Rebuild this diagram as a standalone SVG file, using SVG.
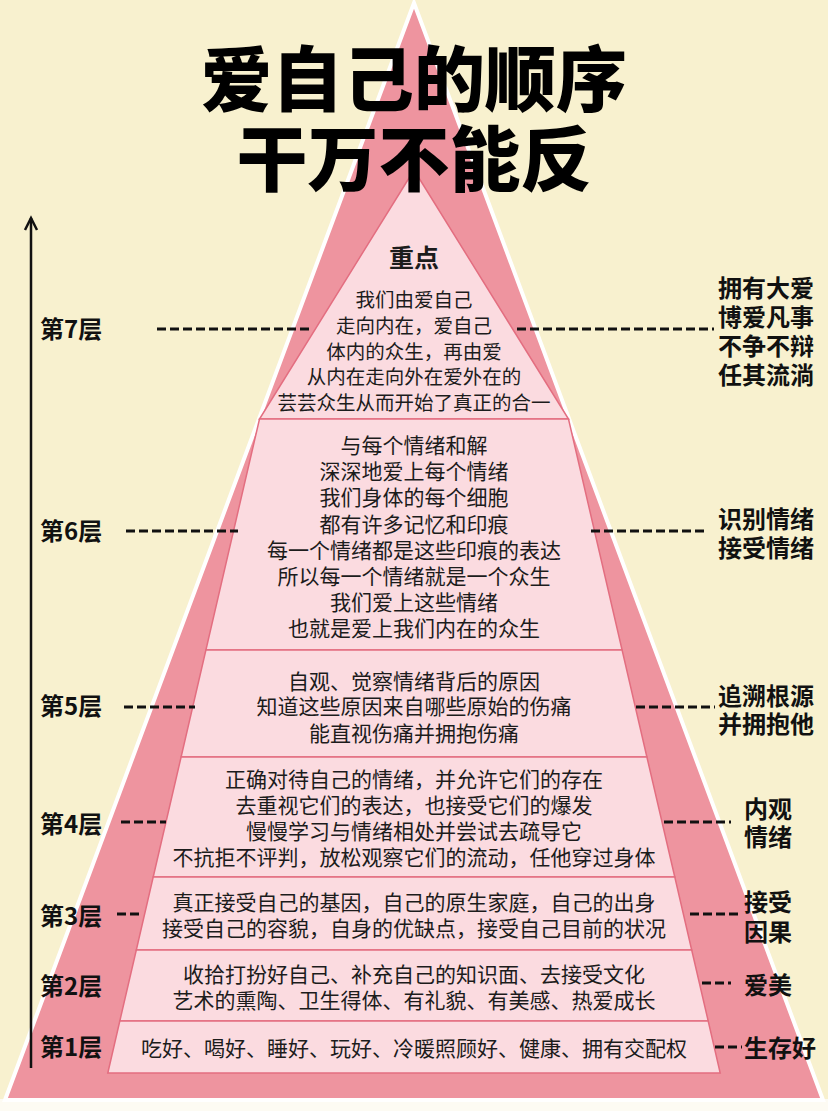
<svg xmlns="http://www.w3.org/2000/svg" width="828" height="1111" viewBox="0 0 828 1111">
<style>
.t{font-family:"Noto Sans CJK SC","Noto Sans",sans-serif;fill:#1c1c1c;text-anchor:middle}
.b{font-weight:700}
.l{font-family:"Noto Sans CJK SC","Noto Sans",sans-serif;fill:#111;font-weight:700;font-size:24px}
.ttl{font-family:"Noto Sans CJK SC","Noto Sans",sans-serif;fill:#000;font-weight:900;font-size:71px;text-anchor:middle}
.lay{fill:#fbdbe0;stroke:#e36e80;stroke-width:1.5}
.d{stroke:#111;stroke-width:3;stroke-dasharray:9 4;fill:none}
.s{font-size:21px}
.s7{font-size:19.5px}
</style>
<rect x="0" y="0" width="828" height="1111" fill="#f8f1cf"/>
<rect x="0" y="1099" width="828" height="12" fill="#fdfbf3"/>
<polygon points="414,3 5,1100 823,1100" fill="#ee949f" stroke="#ffffff" stroke-width="4" stroke-linejoin="miter"/>

<g id="layer7">
<polygon class="lay" points="414,170 259.5,419 568.5,419"/>
<text class="t b" x="414" y="267" font-size="25">重点</text>
<text class="t s7" x="414" y="307">我们由爱自己</text>
<text class="t s7" x="414" y="333">走向内在，爱自己</text>
<text class="t s7" x="414" y="359">体内的众生，再由爱</text>
<text class="t s7" x="414" y="384">从内在走向外在爱外在的</text>
<text class="t s7" x="414" y="410">芸芸众生从而开始了真正的合一</text>
</g>

<g id="layer6">
<polygon class="lay" points="259.5,419 568.5,419 622.1,650 205.9,650"/>
<text class="t s" x="414" y="453">与每个情绪和解</text>
<text class="t s" x="414" y="479">深深地爱上每个情绪</text>
<text class="t s" x="414" y="505">我们身体的每个细胞</text>
<text class="t s" x="414" y="532">都有许多记忆和印痕</text>
<text class="t s" x="414" y="558">每一个情绪都是这些印痕的表达</text>
<text class="t s" x="414" y="584">所以每一个情绪就是一个众生</text>
<text class="t s" x="414" y="610">我们爱上这些情绪</text>
<text class="t s" x="414" y="636">也就是爱上我们内在的众生</text>
</g>

<g id="layer5">
<polygon class="lay" points="205.9,650 622.1,650 646.9,757 181.1,757"/>
<text class="t s" x="414" y="689">自观、觉察情绪背后的原因</text>
<text class="t s" x="414" y="714">知道这些原因来自哪些原始的伤痛</text>
<text class="t s" x="414" y="741">能直视伤痛并拥抱伤痛</text>
</g>

<g id="layer4">
<polygon class="lay" points="181.1,757 646.9,757 674.8,877 153.2,877"/>
<text class="t s" x="414" y="787">正确对待自己的情绪，并允许它们的存在</text>
<text class="t s" x="414" y="813">去重视它们的表达，也接受它们的爆发</text>
<text class="t s" x="414" y="839">慢慢学习与情绪相处并尝试去疏导它</text>
<text class="t s" x="414" y="865">不抗拒不评判，放松观察它们的流动，任他穿过身体</text>
</g>

<g id="layer3">
<polygon class="lay" points="153.2,877 674.8,877 691.7,950 136.3,950"/>
<text class="t s" x="414" y="910">真正接受自己的基因，自己的原生家庭，自己的出身</text>
<text class="t s" x="414" y="936">接受自己的容貌，自身的优缺点，接受自己目前的状况</text>
</g>

<g id="layer2">
<polygon class="lay" points="136.3,950 691.7,950 708.2,1021 119.8,1021"/>
<text class="t s" x="414" y="982">收拾打扮好自己、补充自己的知识面、去接受文化</text>
<text class="t s" x="414" y="1008">艺术的熏陶、卫生得体、有礼貌、有美感、热爱成长</text>
</g>

<g id="layer1">
<polygon class="lay" points="119.8,1021 708.2,1021 720.2,1073 107.8,1073"/>
<text class="t s" x="414" y="1056">吃好、喝好、睡好、玩好、冷暖照顾好、健康、拥有交配权</text>
</g>

<g id="title">
<text class="ttl" x="414" y="105">爱自己的顺序</text>
<text class="ttl" x="414" y="185">干万不能反</text>
</g>

<g id="left-labels">
<text class="l" x="40" y="338">第7层</text>
<text class="l" x="40" y="540">第6层</text>
<text class="l" x="40" y="715">第5层</text>
<text class="l" x="40" y="833">第4层</text>
<text class="l" x="40" y="925">第3层</text>
<text class="l" x="40" y="995">第2层</text>
<text class="l" x="40" y="1056">第1层</text>
</g>

<g id="right-labels">
<text class="l" x="718" y="297">拥有大爱</text>
<text class="l" x="718" y="326">博爱凡事</text>
<text class="l" x="718" y="355">不争不辩</text>
<text class="l" x="718" y="384">任其流淌</text>
<text class="l" x="718" y="528">识别情绪</text>
<text class="l" x="718" y="557">接受情绪</text>
<text class="l" x="718" y="705">追溯根源</text>
<text class="l" x="718" y="733">并拥抱他</text>
<text class="l" x="744" y="818">内观</text>
<text class="l" x="744" y="846">情绪</text>
<text class="l" x="744" y="911">接受</text>
<text class="l" x="744" y="941">因果</text>
<text class="l" x="744" y="994">爱美</text>
<text class="l" x="744" y="1057">生存好</text>
</g>

<g id="connectors">
<line x1="31" y1="218" x2="31" y2="1068" stroke="#111" stroke-width="2.5"/>
<polyline points="25,230 31,218 37,230" fill="none" stroke="#111" stroke-width="2.5"/>
<line class="d" x1="157" y1="329" x2="310" y2="329"/>
<line class="d" x1="517" y1="329" x2="714" y2="329"/>
<line class="d" x1="126" y1="531" x2="238" y2="531"/>
<line class="d" x1="591" y1="531" x2="707" y2="531"/>
<line class="d" x1="124" y1="707" x2="195" y2="707"/>
<line class="d" x1="636" y1="707" x2="715" y2="707"/>
<line class="d" x1="121" y1="822" x2="166" y2="822"/>
<line class="d" x1="664" y1="822" x2="731" y2="822"/>
<line class="d" x1="117" y1="914" x2="140" y2="914"/>
<line class="d" x1="690" y1="914" x2="739" y2="914"/>
<line class="d" x1="702" y1="983" x2="731" y2="983"/>
<line class="d" x1="715" y1="1047" x2="742" y2="1047"/>
</g>
</svg>
